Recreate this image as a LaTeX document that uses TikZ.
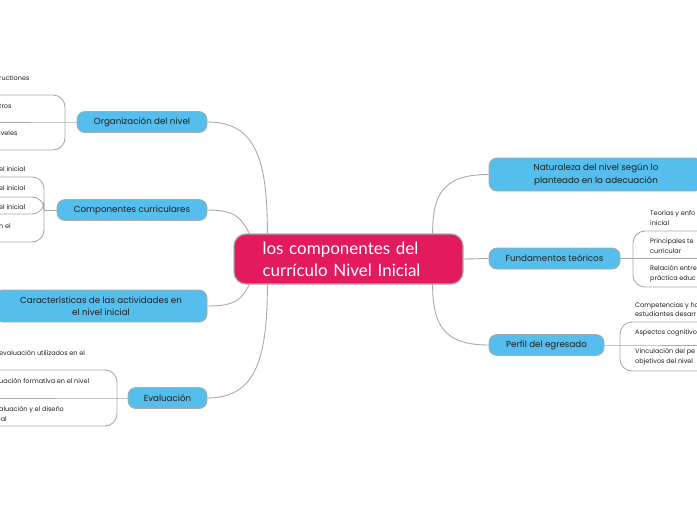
\documentclass[tikz,border=0pt]{standalone}
\usepackage{fontspec}
\setmainfont{Poppins}
\newfontfamily\rootfont{Lato}
\usetikzlibrary{positioning}
\definecolor{skyblue}{HTML}{56BEEC}
\definecolor{rootpink}{HTML}{E31A5E}
\definecolor{edgegray}{HTML}{A9A9A9}
\definecolor{inkdark}{HTML}{1E1E1E}
\tikzstyle{central} = [rectangle, rounded corners=12pt, draw=edgegray, line width=1.2pt,
fill=rootpink, text=white, minimum width=229pt, minimum height=50pt,
font=\rootfont\fontsize{17}{22}\selectfont, align=left, text width=172pt]
\tikzstyle{topic} = [rectangle, rounded corners=8pt, draw=edgegray, line width=0.8pt, text=inkdark,
fill=skyblue, minimum height=21pt, font=\fontsize{8.7}{12.5}\selectfont, align=center, inner xsep=0pt]
\tikzstyle{link} = [draw=edgegray, line width=0.9pt]
\tikzstyle{leaf} = [inner sep=0pt, text=inkdark, font=\fontsize{6.5}{9.5}\selectfont, align=left, anchor=west]

\begin{document}
\begin{tikzpicture}[x=1pt, y=-1pt]
        \useasboundingbox (0,0) rectangle (697,520);
        \clip (0,0) rectangle (697,520);

        \node (root) [central] at (348.5,259) {los componentes del\\currículo Nivel Inicial};

        \node (org) [topic, minimum width=130pt] at (142,122) {Organización del nivel};
        \node (comp) [topic, minimum width=150pt] at (132,210) {Componentes curriculares};
        \node (carac) [topic, minimum width=212pt, minimum height=32pt] at (101,306) {Características de las actividades en\\el nivel inicial};
        \node (eval) [topic, minimum width=79pt] at (167.5,398) {Evaluación};
        \node (nat) [topic, minimum width=214pt, minimum height=33pt] at (596,174.5) {Naturaleza del nivel según lo\\planteado en la adecuación};
        \node (fund) [topic, minimum width=131pt] at (554.5,258.5) {Fundamentos teóricos};
        \node (perf) [topic, minimum width=115pt] at (546.5,345) {Perfil del egresado};

        % where the branches meet the central topic
        \coordinate (rtA) at ([xshift=16pt]root.north west);
        \coordinate (rtB) at ([xshift=34pt]root.north west);
        \coordinate (rtC) at ([xshift=-31pt]root.north east);
        \coordinate (rbA) at ([xshift=16pt]root.south west);
        \coordinate (rbB) at ([xshift=34pt]root.south west);
        \coordinate (rbC) at ([xshift=-31pt]root.south east);

        \draw [link] (org.east) .. controls +(48,0) and +(0,-75) .. (rtB);
        \draw [link] (comp.east) .. controls +(30,0) and +(-8,-14) .. (rtA);
        \draw [link] (carac.east) .. controls +(30,0) and +(-8,14) .. (rbA);
        \draw [link] (eval.east) .. controls +(48,0) and +(0,75) .. (rbB);
        \draw [link] (nat.west) .. controls +(-45,0) and +(0,-40) .. (rtC);
        \draw [link] (fund.west) -- (root.east);
        \draw [link] (perf.west) .. controls +(-45,0) and +(0,40) .. (rbC);

        % Organizacion del nivel
        \coordinate (orghub) at (65,122);
        \coordinate (org1) at (-5,95);
        \coordinate (org2) at (-5,122);
        \coordinate (org3) at (-5,150);
        \draw [link] (org.west) -- (orghub) -- (org2);
        \draw [link, rounded corners=12pt] (orghub) |- (org1);
        \draw [link, rounded corners=12pt] (orghub) |- (org3);
        \node (org1t) [leaf] at (-1,78) {ructiones};
        \node (org2t) [leaf] at (-1,106) {tros};
        \node (org3t) [leaf] at (-1,133) {iveles};

        % Componentes curriculares
        \coordinate (comphub) at (44,210);
        \coordinate (comp1) at (-5,177);
        \coordinate (comp2) at (-5,197);
        \coordinate (comp3) at (-5,214);
        \coordinate (comp4) at (-5,242);
        \draw [link] (comp.west) -- (comphub);
        \draw [link, rounded corners=12pt] (comphub) |- (comp1);
        \draw [link, rounded corners=12pt] (comphub) |- (comp2);
        \draw [link, rounded corners=12pt] (comphub) |- (comp3);
        \draw [link, rounded corners=12pt] (comphub) |- (comp4);
        \node (comp1t) [leaf] at (-1,169) {el inicial};
        \node (comp2t) [leaf] at (-1,188) {el inicial};
        \node (comp3t) [leaf] at (-1,207) {el inicial};
        \node (comp4t) [leaf] at (-1,226) {n el};

        % Evaluacion
        \coordinate (evalhub) at (117,398);
        \coordinate (eval1) at (-5,370);
        \coordinate (eval2) at (-5,398);
        \coordinate (eval3) at (-5,426);
        \draw [link] (eval.west) -- (evalhub) -- (eval2);
        \draw [link, rounded corners=12pt] (evalhub) |- (eval1);
        \draw [link, rounded corners=12pt] (evalhub) |- (eval3);
        \node (eval1t) [leaf] at (-1,353) {evaluación utilizados en el};
        \node (eval2t) [leaf] at (-1,381) {uación formativa en el nivel};
        \node (eval3t) [leaf] at (-1,414) {aluación y el diseño\\ial};

        % Fundamentos teoricos
        \coordinate (fundhub) at (633,258.5);
        \coordinate (fund1) at (705,231);
        \coordinate (fund2) at (705,258.5);
        \coordinate (fund3) at (705,287);
        \draw [link] (fund.east) -- (fundhub) -- (fund2);
        \draw [link, rounded corners=12pt] (fundhub) |- (fund1);
        \draw [link, rounded corners=12pt] (fundhub) |- (fund3);
        \node (fund1t) [leaf] at (650,218) {Teorías y enfo\\inicial};
        \node (fund2t) [leaf] at (650,246) {Principales te\\curricular};
        \node (fund3t) [leaf] at (650,274) {Relación entre\\práctica educ};

        % Perfil del egresado
        \coordinate (perfhub) at (620,345);
        \coordinate (perf1) at (705,322);
        \coordinate (perf2) at (705,345);
        \coordinate (perf3) at (705,371);
        \draw [link] (perf.east) -- (perfhub) -- (perf2);
        \draw [link, rounded corners=12pt] (perfhub) |- (perf1);
        \draw [link, rounded corners=12pt] (perfhub) |- (perf3);
        \node (perf1t) [leaf] at (635,309.5) {Competencias y ho\\estudiantes desarr};
        \node (perf2t) [leaf] at (635,333) {Aspectos cognitivo};
        \node (perf3t) [leaf] at (635,357) {Vinculación del pe\\objetivos del nivel};

    \end{tikzpicture}
\end{document}
